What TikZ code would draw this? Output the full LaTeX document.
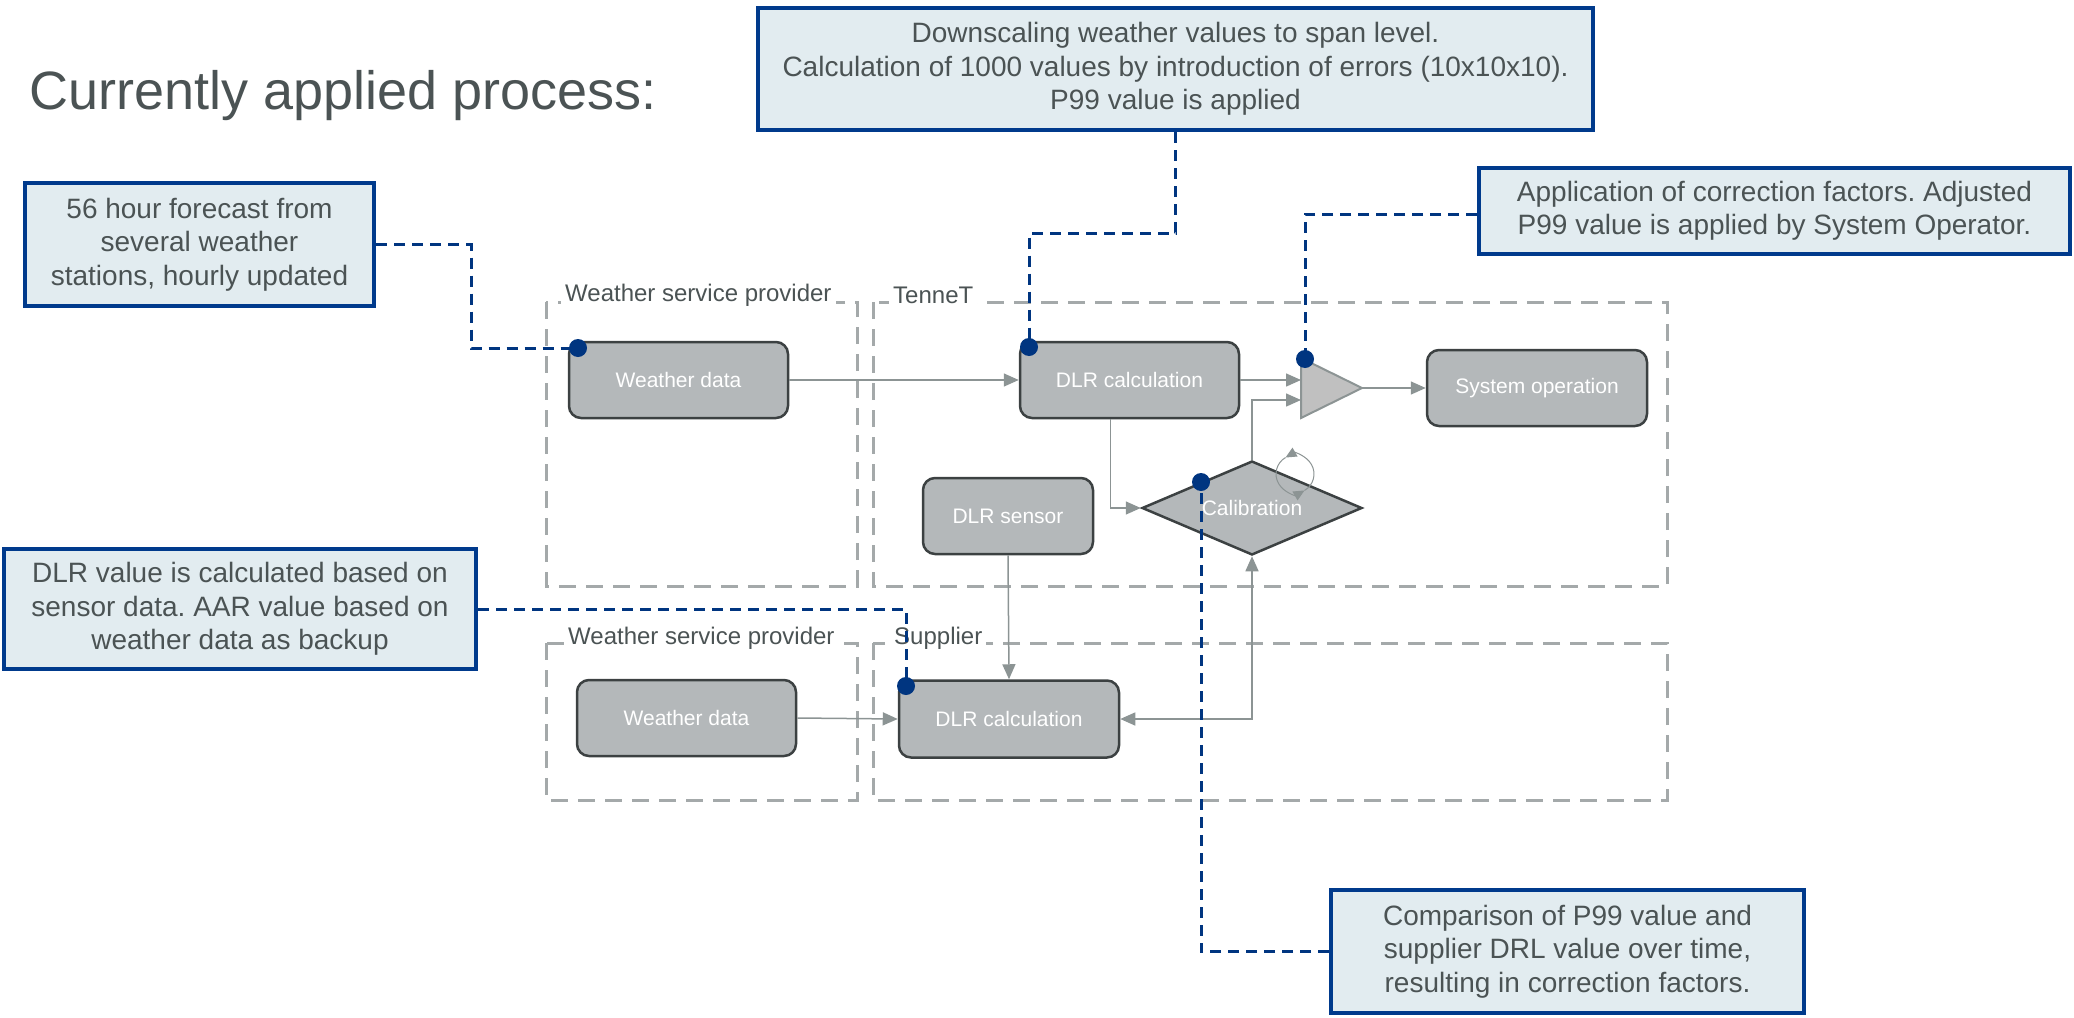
\documentclass[tikz,border=0pt]{standalone}
\usepackage{fontspec}
\setmainfont{Liberation Sans}
\usetikzlibrary{positioning, shapes.geometric, arrows.meta}
\frenchspacing

\definecolor{notefill}{RGB}{226,236,240}
\definecolor{noteedge}{RGB}{0,58,140}
\definecolor{dotblue}{RGB}{0,53,128}
\definecolor{textgray}{RGB}{75,83,84}
\definecolor{groupgray}{RGB}{164,169,170}
\definecolor{nodefill}{RGB}{180,184,186}
\definecolor{nodeedge}{RGB}{60,65,66}
\definecolor{arrowgray}{RGB}{140,148,148}
\definecolor{gainfill}{RGB}{192,192,192}

\tikzset{
    process/.style={draw=nodeedge, line width=2.5pt, fill=nodefill, rounded corners=12pt,
        text=white, font=\fontsize{21}{25}\selectfont, minimum width=219pt, minimum height=76pt, inner sep=0pt},
    note/.style={draw=noteedge, line width=4pt, fill=notefill, text=textgray, align=center,
        font=\fontsize{28}{33.5}\selectfont, inner sep=0pt},
    groupbox/.style={draw=groupgray, line width=3pt, dash pattern=on 17pt off 10pt},
    grouplabel/.style={fill=white, text=textgray, font=\fontsize{24}{28}\selectfont, inner sep=4pt},
    flow/.style={draw=arrowgray, line width=1.5pt, -{Triangle[length=15pt,width=13pt]}},
    pointer/.style={draw=dotblue, line width=3pt, dash pattern=on 11pt off 7pt},
}

\begin{document}
\begin{tikzpicture}[x=1pt, y=-1pt]
    \useasboundingbox (0,0) rectangle (2074,1017);

    \node[anchor=base west, inner sep=0pt, text=textgray, font=\fontsize{54}{60}\selectfont] (title) at (29,109) {Currently applied process:};

    % groups
    \draw[groupbox] (546,302) rectangle (857,586);
    \draw[groupbox] (873,302) rectangle (1667,586);
    \draw[groupbox] (546,643) rectangle (857,800);
    \draw[groupbox] (873,643) rectangle (1667,800);
    \node[grouplabel, anchor=west] (wsptop) at (561,295) {Weather service provider};
    \node[grouplabel, anchor=west] (tennet) at (889,295) {TenneT};
    \node[grouplabel, anchor=west] (wspbot) at (564,638) {Weather service provider};
    \node[grouplabel, anchor=west] (supplier) at (890,638) {Supplier};

    % process steps
    \node[process] (wdtop) at (678.5,380) {Weather data};
    \node[process] (dlrtop) at (1129.5,380) {DLR calculation};
    \node[process, minimum width=220pt] (sysop) at (1537,388) {System operation};
    \node[process, minimum width=170pt] (sensor) at (1008,516) {DLR sensor};
    \node[process, diamond, rounded corners=0pt, aspect=2.34, minimum width=220pt, minimum height=94pt] (calib) at (1252,508) {Calibration};
    \node[process] (wdbot) at (686.5,718) {Weather data};
    \node[process, minimum width=220pt, minimum height=77pt] (dlrbot) at (1009,719) {DLR calculation};

    \draw[draw=arrowgray, fill=gainfill, line width=2pt] (1301,358) -- (1362,388) -- (1301,418) -- cycle;
    \coordinate (gin1) at (1301,380);
    \coordinate (gin2) at (1301,400);
    \coordinate (gout) at (1362,388);

    % flows
    \draw[flow] (wdtop.east) -- (dlrtop.west);
    \draw[flow] (dlrtop.east) -- (gin1);
    \draw[flow] (calib.north) |- (gin2);
    \draw[flow] (gout) -- (sysop.west);
    \draw[flow] ([xshift=-19pt]dlrtop.south) |- (calib.west);
    \draw[flow] (sensor.south) -- (dlrbot.north);
    \draw[flow] (wdbot.east) -- (dlrbot.west);
    \draw[flow, {Triangle[length=15pt,width=13pt]}-{Triangle[length=15pt,width=13pt]}] (calib.south) |- (dlrbot.east);

    % loop
    \draw[draw=arrowgray, line width=1pt, -{Triangle[length=11pt,width=10pt]}] (1295,474) ++(60:19) arc[start angle=60, end angle=-120, radius=19];
    \draw[draw=arrowgray, line width=1pt, -{Triangle[length=11pt,width=10pt]}] (1295,474) ++(-120:19) arc[start angle=-120, end angle=-300, radius=19];

    % notes
    \node[note, minimum width=835pt, minimum height=122pt] (downscale) at (1175.5,69) {Downscaling weather values to span level.\\Calculation of 1000 values by introduction of errors (10x10x10).\\P99 value is applied};
    \node[note, minimum width=349pt, minimum height=123pt] (forecast) at (199.5,244.5) {56 hour forecast from\\several weather\\stations, hourly updated};
    \node[note, minimum width=591pt, minimum height=86pt] (correction) at (1774.5,211) {Application of correction factors. Adjusted\\P99 value is applied by System Operator.};
    \node[note, minimum width=472pt, minimum height=120pt] (dlrnote) at (240,609) {DLR value is calculated based on\\sensor data. AAR value based on\\weather data as backup};
    \node[note, minimum width=473pt, minimum height=123pt] (comparison) at (1567.5,951.5) {Comparison of P99 value and\\supplier DRL value over time,\\resulting in correction factors.};

    \coordinate (d1) at (578,348);
    \coordinate (d2) at (1029,347);
    \coordinate (d3) at (1305,359);
    \coordinate (d4) at (906,686);
    \coordinate (d5) at (1201,482);

    \draw[pointer] (forecast.east) -- (471,244.5) |- (d1);
    \draw[pointer] (downscale.south) |- (1029,233) -- (d2);
    \draw[pointer] ([yshift=-3pt]correction.west) -| (d3);
    \draw[pointer] (dlrnote.east) -| (d4);
    \draw[pointer] (comparison.west) -| (d5);
    \foreach \d in {d1, d2, d3, d4, d5}
        \fill[dotblue] (\d) circle (9);
\end{tikzpicture}
\end{document}
